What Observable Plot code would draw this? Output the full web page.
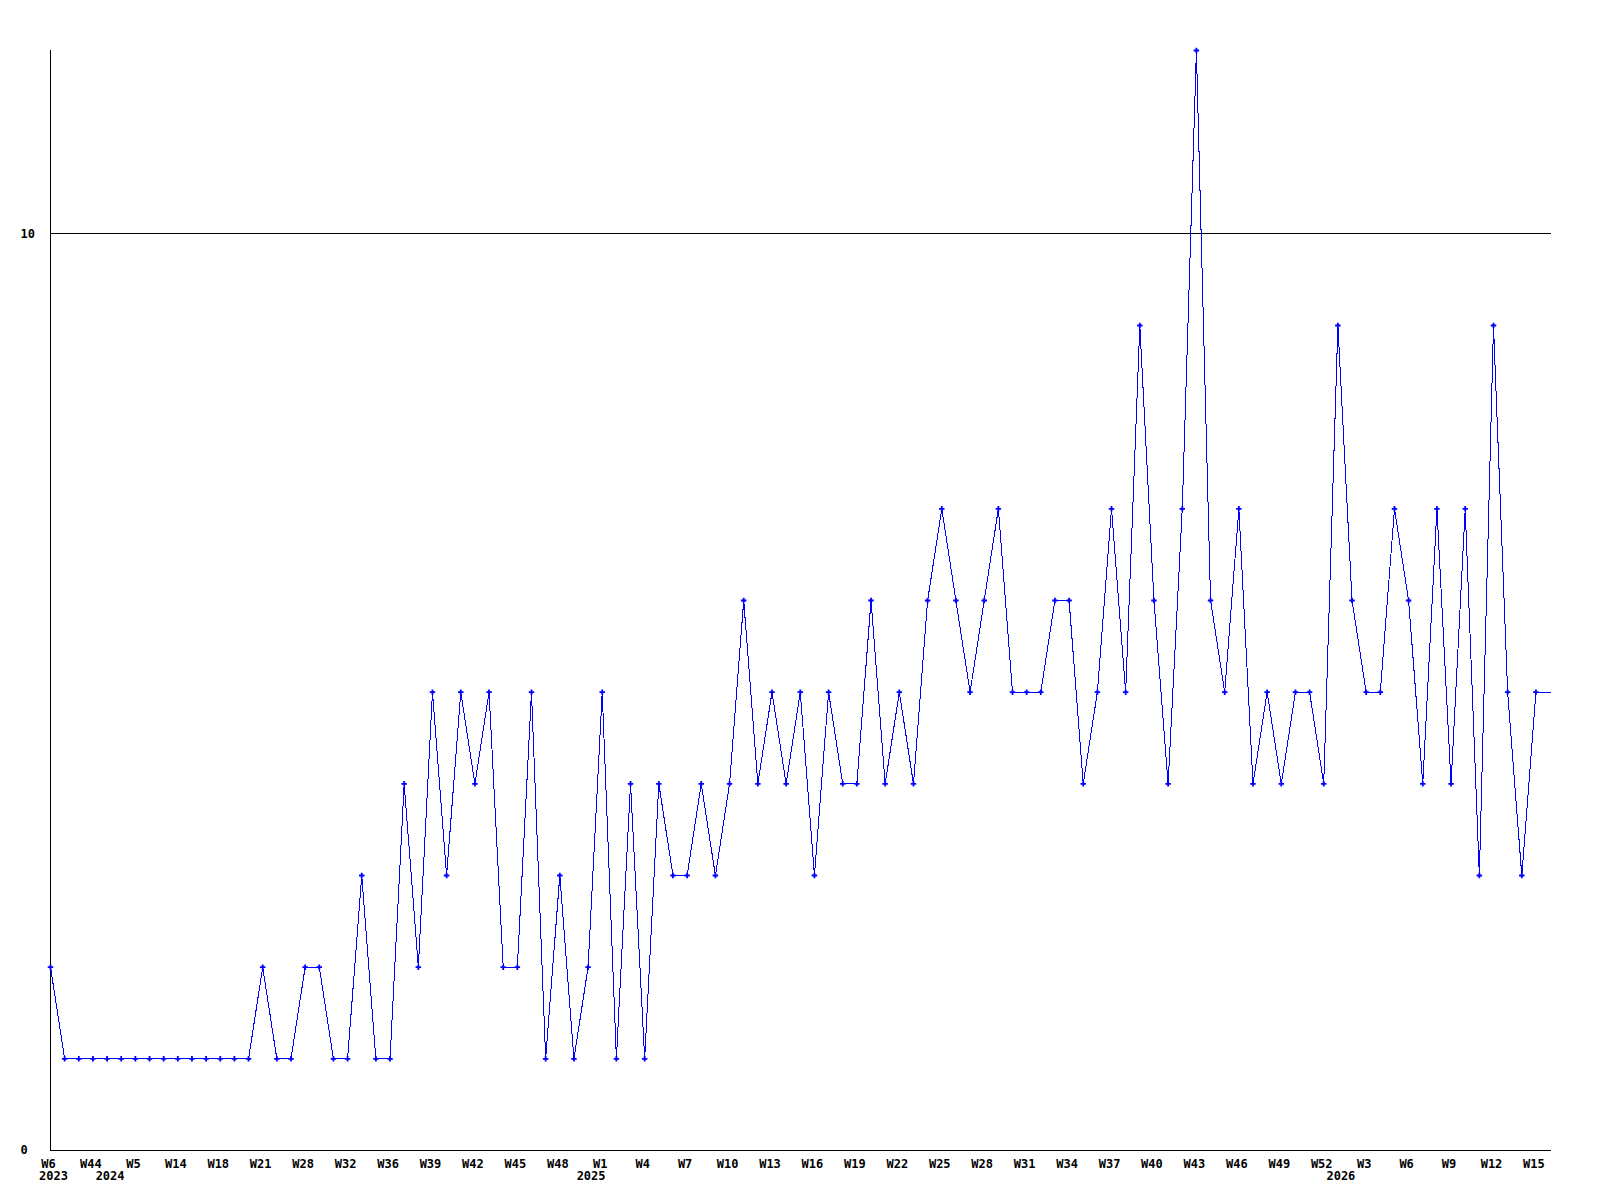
<!DOCTYPE html>
<html><head><meta charset="utf-8">
<script src="https://cdn.jsdelivr.net/npm/d3@7"></script>
<script src="https://cdn.jsdelivr.net/npm/@observablehq/plot@0.6"></script>
<style>html,body{margin:0;padding:0;background:#fff}</style>
</head><body><div id="chart"></div>
<script>
// weekly counts, one entry per week that has data (in order)
const values = [
  2, 1, 1, 1, 1, 1, 1, 1, 1, 1,
  1, 1, 1, 1, 1, 2, 1, 1, 2, 2,
  1, 1, 3, 1, 1, 4, 2, 5, 3, 5,
  4, 5, 2, 2, 5, 1, 3, 1, 2, 5,
  1, 4, 1, 4, 3, 3, 4, 3, 4, 6,
  4, 5, 4, 5, 3, 5, 4, 4, 6, 4,
  5, 4, 6, 7, 6, 5, 6, 7, 5, 5,
  5, 6, 6, 4, 5, 7, 5, 9, 6, 4,
  7, 12, 6, 5, 7, 4, 5, 4, 5, 5,
  4, 9, 6, 5, 5, 7, 6, 4, 7, 4,
  7, 3, 9, 5, 3, 5
];
// tick labels shown under every third point
const weekTicks = ["W6","W44","W5","W14","W18","W21","W28","W32","W36","W39","W42","W45",
  "W48","W1","W4","W7","W10","W13","W16","W19","W22","W25","W28","W31",
  "W34","W37","W40","W43","W46","W49","W52","W3","W6","W9","W12","W15"];
const tickEvery = 3;
const yearLabels = ["2023","2024","2025","2026"];
const yearStarts = [0, 4, 38, 91];
const yTicks = [0, 10];
const yMax = 12;

const data = values.map((v, i) => ({i, v}));
const n = values.length;
const xMax = n + 0.1;
const blue = "#0000ff";

const chart = Plot.plot({
  width: 1600, height: 1200,
  marginLeft: 50, marginRight: 49, marginTop: 50, marginBottom: 50,
  style: {fontFamily: "'DejaVu Sans Mono', monospace", fontSize: "12px", fontWeight: "bold", background: "#fff", color: "#000"},
  x: {type: "linear", domain: [0, xMax], label: null},
  y: {domain: [0, yMax], label: null},
  marks: [
    Plot.ruleY([10], {stroke: "#000", shapeRendering: "crispEdges"}),
    Plot.ruleX([0], {stroke: "#000", shapeRendering: "crispEdges"}),
    Plot.ruleY([0], {stroke: "#000", shapeRendering: "crispEdges"}),
    Plot.line(data, {x: "i", y: "v", stroke: blue, strokeWidth: 1, shapeRendering: "crispEdges"}),
    Plot.ruleY([values[n - 1]], {x1: n - 1, x2: xMax, stroke: blue, shapeRendering: "crispEdges"}),
    Plot.dot(data, {x: "i", y: "v", symbol: "cross", r: 2.3, fill: blue, stroke: "none"}),
    Plot.axisY({ticks: yTicks, tickSize: 0, tickPadding: 0, dx: -30, textAnchor: "start", label: null, tickFormat: d => String(d)}),
    Plot.axisX({ticks: weekTicks.map((_, k) => k * tickEvery), tickSize: 0, tickPadding: 9, dx: -2, label: null,
      tickFormat: d => weekTicks[Math.round(d / tickEvery)]}),
    Plot.axisX({ticks: yearStarts, tickSize: 0, tickPadding: 21, dx: 3, label: null,
      tickFormat: d => yearLabels[yearStarts.indexOf(d)]})
  ]
});
document.getElementById("chart").appendChild(chart);
</script>
</body></html>
